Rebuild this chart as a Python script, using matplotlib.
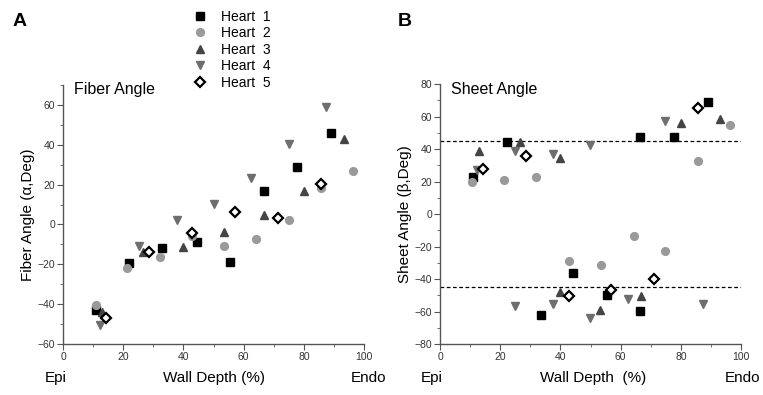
import matplotlib.pyplot as plt
from matplotlib.ticker import MultipleLocator

plt.rcParams['font.family'] = ['Liberation Sans', 'DejaVu Sans']

# Fiber angle data (wall depth %, angle deg)
fib_x1 = [11, 22, 33, 44.4, 55.5, 66.7, 77.7, 88.9]
fib_y1 = [-43, -19.4, -12, -9, -18.7, 17, 29, 46]
fib_x2 = [10.9, 21.4, 32.1, 43, 53.6, 64.2, 75.1, 85.6, 96.3]
fib_y2 = [-40.3, -22, -16.5, -6, -10.7, -7.2, 2.3, 18.2, 26.9]
fib_x3 = [13, 26.6, 40, 53.4, 66.8, 80, 93.4]
fib_y3 = [-44, -14, -11.5, -4, 4.8, 17, 43]
fib_x4 = [12.4, 25.2, 37.7, 50.2, 62.6, 75, 87.5]
fib_y4 = [-50.3, -11, 2.3, 10.4, 23.2, 40.3, 58.8]
fib_x5 = [14.4, 28.7, 43, 57.3, 71.5, 85.8]
fib_y5 = [-47, -13.9, -4.5, 6.2, 3.2, 20.2]

# Sheet angle data
sh_x1 = [10.9, 22.1, 33.4, 44.2, 55.4, 66.6, 66.6, 77.7, 88.9]
sh_y1 = [22.6, 44.1, -62.4, -36.5, -49.8, 47.2, -59.5, 47.2, 69.1]
sh_x2 = [10.5, 21.3, 32, 42.8, 53.4, 64.3, 74.8, 85.7, 96.5]
sh_y2 = [19.5, 20.7, 22.6, -29.1, -31.6, -13.7, -22.6, 32.8, 55]
sh_x3 = [13.1, 26.6, 39.9, 39.9, 53.2, 66.7, 80, 93.1]
sh_y3 = [38.6, 44.1, 34.5, -48, -58.9, -50.7, 56, 58.7]
sh_x4 = [12.2, 25, 25, 37.4, 37.4, 49.9, 49.9, 62.3, 74.8, 87.4]
sh_y4 = [27.3, 39, -56.4, 36.9, -55.4, 42.5, -64, -52.3, 57.4, -55.4]
sh_x5 = [14.2, 28.5, 42.8, 56.8, 71.2, 85.7]
sh_y5 = [27.7, 35.5, -50.7, -46.6, -40, 65.2]

labels = ['Heart  1', 'Heart  2', 'Heart  3', 'Heart  4', 'Heart  5']
styles = [
    dict(marker='s', color='black', mec='black', ms=5.2),
    dict(marker='o', color='#9a9a9a', mec='#9a9a9a', ms=5.6),
    dict(marker='^', color='#444444', mec='#444444', ms=6.2),
    dict(marker='v', color='#6e6e6e', mec='#6e6e6e', ms=6.2),
    dict(marker='D', color='white', mec='black', ms=5.6, mew=1.6),
]

spine_col = '#555555'

fig = plt.figure(figsize=(7.63, 3.95), dpi=100)
axA = fig.add_axes([0.0826, 0.129, 0.3945, 0.656])
axB = fig.add_axes([0.5767, 0.129, 0.3945, 0.658])


def style_axes(ax, ylim, ylabel, title):
    ax.set_xlim(0, 100)
    ax.set_ylim(*ylim)
    for s in ['top', 'right']:
        ax.spines[s].set_visible(False)
    for s in ['left', 'bottom']:
        ax.spines[s].set_color(spine_col)
        ax.spines[s].set_linewidth(1.0)
    ax.xaxis.set_major_locator(MultipleLocator(20))
    ax.xaxis.set_minor_locator(MultipleLocator(10))
    ax.yaxis.set_major_locator(MultipleLocator(20))
    ax.yaxis.set_minor_locator(MultipleLocator(10))
    ax.tick_params(which='both', direction='out', color=spine_col,
                   labelsize=7.5, labelcolor='#333333', pad=1.5)
    ax.tick_params(which='major', length=4)
    ax.tick_params(which='minor', length=2.5)
    ax.set_ylabel(ylabel, fontsize=11, labelpad=2)
    ax.text(0.035, 1.01, title, transform=ax.transAxes, fontsize=11.5,
            va='top', ha='left')


fib = [(fib_x1, fib_y1), (fib_x2, fib_y2), (fib_x3, fib_y3),
       (fib_x4, fib_y4), (fib_x5, fib_y5)]
sheet = [(sh_x1, sh_y1), (sh_x2, sh_y2), (sh_x3, sh_y3),
         (sh_x4, sh_y4), (sh_x5, sh_y5)]

handles = []
for (x, y), st, lab in zip(fib, styles, labels):
    h, = axA.plot(x, y, ls='none', label=lab, clip_on=False, **st)
    handles.append(h)
for (x, y), st in zip(sheet, styles):
    axB.plot(x, y, ls='none', clip_on=False, **st)

axB.axhline(45, color='black', ls=(0, (3, 2)), lw=0.9, zorder=1)
axB.axhline(-45, color='black', ls=(0, (3, 2)), lw=0.9, zorder=1)

style_axes(axA, (-60, 70), 'Fiber Angle (α,Deg)', 'Fiber Angle')
style_axes(axB, (-80, 80), 'Sheet Angle (β,Deg)', 'Sheet Angle')

fig.legend(handles=handles, loc='upper left', bbox_to_anchor=(0.240, 1.0),
           frameon=False, fontsize=10, handletextpad=1.0, labelspacing=0.18,
           handlelength=1.0, borderaxespad=0.3)

# panel letters and axis captions
fig.text(0.016, 0.945, 'A', fontsize=14, fontweight='bold', va='center')
fig.text(0.521, 0.945, 'B', fontsize=14, fontweight='bold', va='center')

ycap = 0.043
fig.text(0.073, ycap, 'Epi', fontsize=11, ha='center', va='center')
fig.text(0.281, ycap, 'Wall Depth (%)', fontsize=11, ha='center', va='center')
fig.text(0.483, ycap, 'Endo', fontsize=11, ha='center', va='center')
fig.text(0.566, ycap, 'Epi', fontsize=11, ha='center', va='center')
fig.text(0.778, ycap, 'Wall Depth  (%)', fontsize=11, ha='center', va='center')
fig.text(0.973, ycap, 'Endo', fontsize=11, ha='center', va='center')

fig.savefig('out.png', dpi=100)
